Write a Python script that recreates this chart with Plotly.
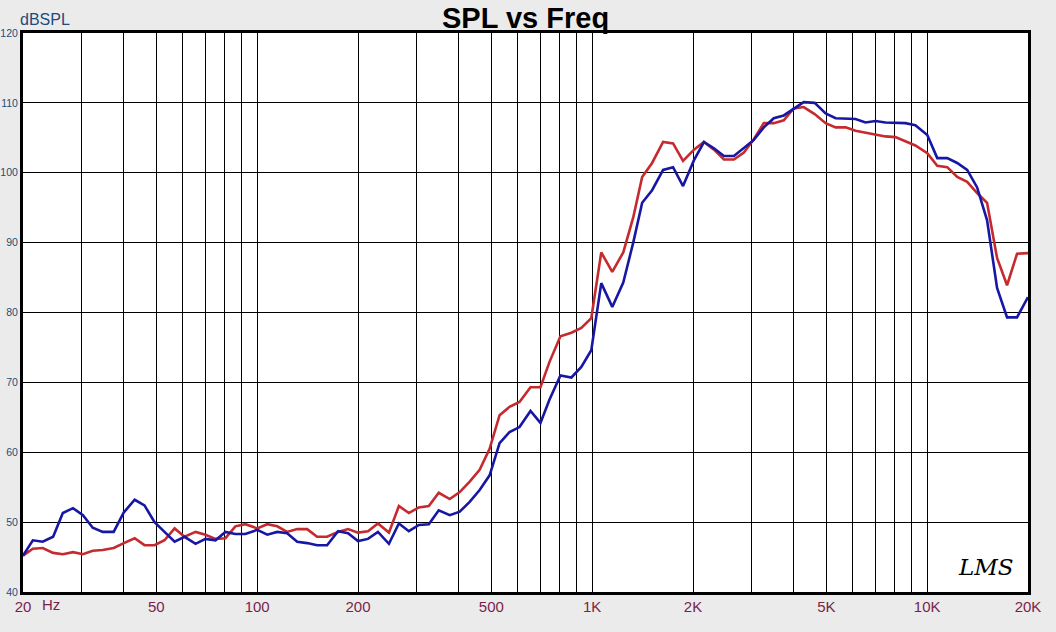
import plotly.graph_objects as go

# Frequency points (Hz)
freq_hz = [20, 21.4, 22.9, 24.6, 26.3, 28.2, 30.2, 32.3, 34.6, 37.3,
           40.0, 43.1, 46.1, 49.4, 52.9, 56.7, 60.7, 65.5, 70.1, 75.1,
           80.4, 86.1, 92.2, 100.1, 107.2, 114.8, 122.9, 131.7, 141.0, 151.0,
           161.7, 174.4, 186.8, 200, 214.2, 229.4, 247.4, 264.9, 283.7, 303.8,
           325.4, 348.4, 375.8, 402.5, 430.9, 461.5, 494.2, 529.2, 566.7, 606.9,
           654.6, 701.0, 745.5, 804.0, 867.1, 928.3, 994.1, 1064.6, 1148.2, 1238.4,
           1326.2, 1410.2, 1509.9, 1628.5, 1744.0, 1867.7, 2013.7, 2156.5, 2309.6, 2474.0,
           2649.4, 2837.2, 3038.4, 3253.8, 3484.4, 3732.0, 3996.6, 4280, 4614.6, 4977.4,
           5330, 5708, 6112, 6546, 7010, 7507, 8040, 8610, 9220, 10010,
           10720, 11480, 12294, 13166, 14100, 15098, 16170, 17319, 18548, 20000]

# Blue curve (dBSPL)
spl_blue = [45.2, 47.4, 47.2, 47.9, 51.3, 52.0, 51.0, 49.2, 48.6, 48.6,
            51.4, 53.2, 52.4, 50.0, 48.6, 47.2, 47.9, 46.9, 47.6, 47.4,
            48.6, 48.3, 48.3, 48.9, 48.2, 48.6, 48.4, 47.2, 47.0, 46.7,
            46.7, 48.7, 48.4, 47.3, 47.6, 48.6, 46.9, 49.8, 48.7, 49.6,
            49.7, 51.7, 51.0, 51.5, 52.9, 54.6, 56.7, 61.3, 62.9, 63.6,
            65.9, 64.2, 67.5, 71.0, 70.7, 72.2, 74.6, 84.2, 80.8, 84.3,
            90.0, 95.7, 97.5, 100.4, 100.8, 98.1, 101.8, 104.4, 103.5, 102.4,
            102.4, 103.5, 104.7, 106.5, 107.8, 108.2, 109.2, 110.1, 110.0, 108.5,
            107.8, 107.8, 107.7, 107.2, 107.4, 107.2, 107.2, 107.1, 106.8, 105.4,
            102.1, 102.1, 101.4, 100.4, 97.9, 93.2, 83.5, 79.3, 79.3, 82.2]

# Red curve (dBSPL)
spl_red = [45.2, 46.2, 46.3, 45.6, 45.4, 45.7, 45.4, 45.9, 46.0, 46.3,
           47.0, 47.7, 46.7, 46.7, 47.4, 49.1, 47.9, 48.6, 48.2, 47.6,
           47.7, 49.4, 49.7, 49.1, 49.7, 49.4, 48.6, 49.0, 49.0, 47.9,
           47.9, 48.6, 49.0, 48.5, 48.7, 49.8, 48.5, 52.3, 51.3, 52.1,
           52.3, 54.2, 53.3, 54.3, 55.8, 57.5, 60.5, 65.3, 66.5, 67.2,
           69.3, 69.3, 72.9, 76.6, 77.1, 77.8, 79.2, 88.6, 85.8, 88.6,
           93.6, 99.4, 101.4, 104.4, 104.2, 101.7, 103.3, 104.4, 103.3, 101.9,
           101.9, 102.9, 104.8, 107.1, 107.1, 107.5, 109.2, 109.4, 108.4, 107.1,
           106.5, 106.5, 106.0, 105.7, 105.4, 105.2, 105.1, 104.5, 103.9, 102.8,
           101.0, 100.8, 99.4, 98.7, 97.1, 95.7, 87.8, 83.9, 88.4, 88.5]

if not (len(freq_hz) == len(spl_blue) == len(spl_red)):
    raise SystemExit(f"length mismatch {len(freq_hz)} {len(spl_blue)} {len(spl_red)}")

# Axis ticks / grid
x_grid_vals = [20, 30, 40, 50, 60, 70, 80, 90,
               100, 200, 300, 400, 500, 600, 700, 800, 900,
               1000, 2000, 3000, 4000, 5000, 6000, 7000, 8000, 9000,
               10000, 20000]
x_labels = {20: "20", 50: "50", 100: "100", 200: "200", 500: "500",
            1000: "1K", 2000: "2K", 5000: "5K", 10000: "10K", 20000: "20K"}
x_grid_text = [x_labels.get(v, "") for v in x_grid_vals]
y_tick_vals = [40, 50, 60, 70, 80, 90, 100, 110, 120]

title_text = "SPL vs Freq"
y_unit = "dBSPL"
x_unit = "Hz"
logo_text = "LMS"

FONT = "Arial, 'Liberation Sans', sans-serif"
BLUE_TXT = "#1d4c7a"
MAROON_TXT = "#7a1f4c"

fig = go.Figure()
fig.add_trace(go.Scatter(x=freq_hz, y=spl_red, mode="lines",
                         line=dict(color="#c42a2e", width=2.6), showlegend=False))
fig.add_trace(go.Scatter(x=freq_hz, y=spl_blue, mode="lines",
                         line=dict(color="#1717a3", width=2.6), showlegend=False))

fig.update_layout(
    width=1056, height=632,
    margin=dict(l=23, r=28, t=33, b=40, autoexpand=False),
    paper_bgcolor="#ebebeb",
    plot_bgcolor="#ffffff",
    showlegend=False,
    font=dict(family=FONT),
    xaxis=dict(
        type="log", range=[1.30103, 4.30103],
        tickmode="array", tickvals=x_grid_vals, ticktext=x_grid_text,
        showgrid=True, gridcolor="#000000", gridwidth=1,
        showline=True, linecolor="#000000", linewidth=3, mirror=True,
        ticks="", zeroline=False, automargin=False,
        tickfont=dict(size=15, color=MAROON_TXT, family=FONT),
        ticklabelstandoff=-1,
    ),
    yaxis=dict(
        range=[40, 120], tickmode="array", tickvals=y_tick_vals,
        showgrid=True, gridcolor="#000000", gridwidth=1,
        showline=True, linecolor="#000000", linewidth=3, mirror=True,
        ticks="", zeroline=False, automargin=False,
        tickfont=dict(size=10.5, color=BLUE_TXT, family=FONT),
        ticklabelstandoff=0,
    ),
    annotations=[
        dict(text=f"<b><u>{title_text}</u></b>", xref="paper", yref="paper",
             x=0.5, y=1.0, yshift=33, xanchor="center", yanchor="top",
             showarrow=False, font=dict(size=29, color="#000000", family=FONT)),
        dict(text=y_unit, xref="paper", yref="paper", x=0, y=1.0,
             xanchor="left", yanchor="bottom", yshift=3, xshift=-5, showarrow=False,
             font=dict(size=16, color=BLUE_TXT, family=FONT)),
        dict(text=x_unit, xref="paper", yref="paper", x=0.0, y=0,
             xanchor="left", yanchor="top", xshift=17, yshift=-2, showarrow=False,
             font=dict(size=15, color=MAROON_TXT, family=FONT)),
        dict(text=f"<i>{logo_text}</i>", xref="paper", yref="paper",
             x=0.988, y=0.018, xanchor="right", yanchor="bottom", showarrow=False,
             font=dict(size=23, color="#000000", family="'DejaVu Serif', serif")),
    ],
)

fig.write_html("out.html",
               config={"displayModeBar": False},
               post_script="document.body.style.margin='0px';"
                           "document.body.style.background='#ebebeb';")
